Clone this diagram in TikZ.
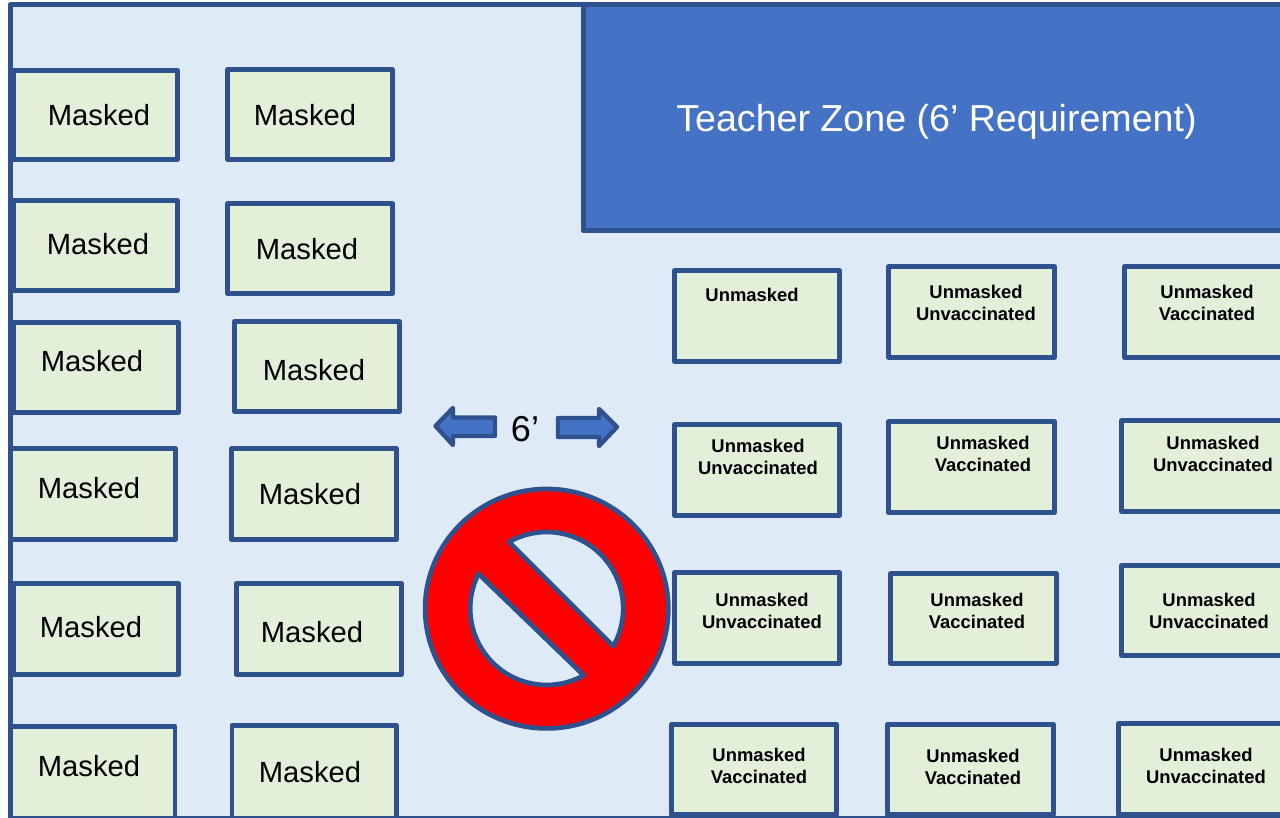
\documentclass[tikz,border=0pt]{standalone}
\usepackage{fontspec}
\setmainfont{Liberation Sans}
\definecolor{edgeblue}{HTML}{2F528F}
\definecolor{roombg}{HTML}{DEEAF6}
\definecolor{deskfill}{HTML}{E2EFD9}
\definecolor{zoneblue}{HTML}{4472C4}
\tikzset{
  desk/.style={draw=edgeblue,line width=4.9pt,fill=deskfill,line join=round},
  masktext/.style={font=\fontsize{29.2}{33}\selectfont,text=black,inner sep=0pt},
  unmasktext/.style={font=\fontsize{18.4}{22}\selectfont\bfseries,text=black,inner sep=0pt,align=center},
  bigarrow/.style={draw=edgeblue,line width=4.4pt,fill=zoneblue,line join=round},
  segment/.style={draw=edgeblue,line width=4.7pt,fill=roombg,line join=round}
}
\newcommand{\mdesk}[7]{%
  \draw[desk] ({#2+0.6},{#3+0.6}) rectangle ({#4-0.6},{#5-0.6});
  \node[masktext] (#1) at (#6,#7) {Masked};}
\newcommand{\udesk}[8]{%
  \draw[desk] ({#2+0.6},{#3+0.6}) rectangle ({#4-0.6},{#5-0.6});
  \node[unmasktext] (#1) at (#6,#7) {#8};}
\begin{document}
\begin{tikzpicture}[x=1pt,y=-1pt]
\useasboundingbox (0,0) rectangle (1280,818);
\clip (0,0) rectangle (1280,818);
\fill[white] (0,0) rectangle (1280,818);
\draw[draw=edgeblue,line width=5pt,fill=roombg,line join=round] (10,5) rectangle (1290,818.8);
\draw[draw=edgeblue,line width=5pt,fill=zoneblue,line join=round] (583.3,5) rectangle (1290,230.5);
\node[font=\fontsize{37.6}{42}\selectfont,text=white,inner sep=0pt] (zone) at (936.5,122) {Teacher Zone (6’ Requirement)};
% masked desks
\mdesk{m1}{13}{70}{178}{160}{99}{115}
\mdesk{m2}{227}{69}{393}{160}{305}{115}
\mdesk{m3}{13}{200}{178}{291}{98}{244}
\mdesk{m4}{227}{203}{393}{294}{307}{249}
\mdesk{m5}{13}{322}{179}{413}{92}{361}
\mdesk{m6}{234}{321}{400}{412}{314}{370}
\mdesk{m7}{10}{448}{176}{540}{89}{488}
\mdesk{m8}{231}{448}{397}{540}{310}{494}
\mdesk{m9}{13}{583}{179}{675}{91}{627}
\mdesk{m10}{236}{583}{402}{675}{312}{632}
\mdesk{m11}{9.5}{725.7}{175.6}{819.4}{89}{766}
\mdesk{m12}{231.4}{724.9}{397.1}{819.4}{310}{772}
% unmasked desks
\udesk{u1}{674}{270}{840}{362}{752}{295}{Unmasked}
\udesk{u2}{888}{266}{1055}{358}{976}{303}{Unmasked\\Unvaccinated}
\udesk{u3}{1124}{266}{1290}{358}{1207}{303}{Unmasked\\Vaccinated}
\udesk{u4}{674}{424}{840}{516}{758}{457}{Unmasked\\Unvaccinated}
\udesk{u5}{888}{421}{1055}{513}{983}{454}{Unmasked\\Vaccinated}
\udesk{u6}{1121}{420}{1290}{512}{1213}{454}{Unmasked\\Unvaccinated}
\udesk{u7}{674}{572}{840}{664}{762}{611}{Unmasked\\Unvaccinated}
\udesk{u8}{890}{573}{1057}{664}{977}{611}{Unmasked\\Vaccinated}
\udesk{u9}{1121}{565}{1290}{656}{1209}{611}{Unmasked\\Unvaccinated}
\udesk{u10}{671}{723.5}{837}{815.5}{759}{766}{Unmasked\\Vaccinated}
\udesk{u11}{887}{723.5}{1054}{815.5}{973}{767}{Unmasked\\Vaccinated}
\udesk{u12}{1118}{723}{1290}{815.5}{1206}{766}{Unmasked\\Unvaccinated}
% six-foot arrows
\draw[bigarrow] (435.5,426) -- (453,408) -- (453,417.5) -- (495,417.5) -- (495,436) -- (453,436) -- (453,445) -- cycle;
\draw[bigarrow] (617,427) -- (599,409) -- (599,418) -- (558,418) -- (558,437) -- (599,437) -- (599,446) -- cycle;
\node[font=\fontsize{36}{40}\selectfont,text=black,inner sep=0pt] (six) at (525,429) {6’};
% no symbol
\coordinate (nc) at (546.7,608.7);
\draw[draw=edgeblue,line width=4.7pt,fill=red] (nc) ellipse[x radius=121.6pt,y radius=119.7pt];
\draw[segment] plot[domain=-119.5:29.5,samples=60] ({546.7+76.5*cos(\x)},{608.5+76.5*sin(\x)}) -- cycle;
\draw[segment] plot[domain=61:207,samples=60] ({546.7+76.5*cos(\x)},{608.5+76.5*sin(\x)}) -- cycle;
\end{tikzpicture}
\end{document}
